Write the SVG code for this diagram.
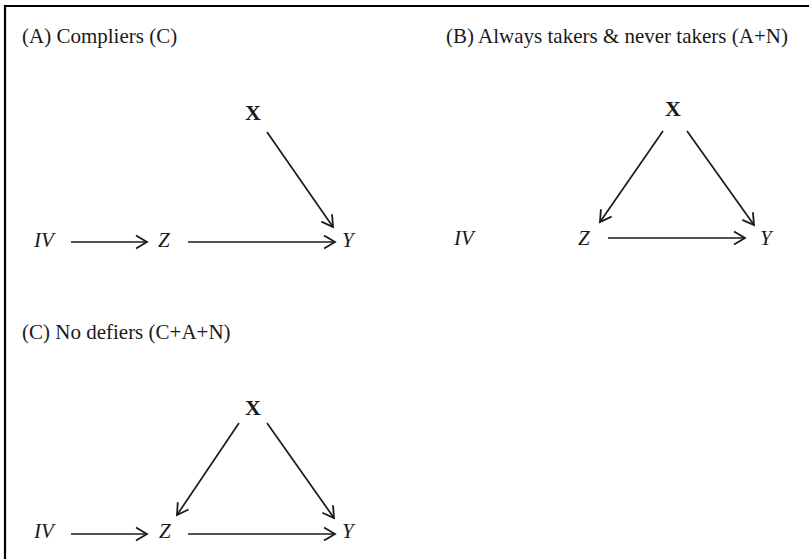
<svg xmlns="http://www.w3.org/2000/svg" width="809" height="559" viewBox="0 0 809 559">
<style>
.t{font-family:"Liberation Serif","Times New Roman",serif;font-size:21px;fill:#1a1a1a}
.v{font-family:"Liberation Serif","Times New Roman",serif;font-size:21px;font-style:italic;fill:#1a1a1a}
.b{font-family:"Liberation Serif","Times New Roman",serif;font-size:22px;font-weight:bold;fill:#1a1a1a}
.e{stroke:#1a1a1a;stroke-width:1.7;fill:none;marker-end:url(#ah)}
</style>
<defs>
<marker id="ah" markerUnits="userSpaceOnUse" markerWidth="16" markerHeight="16" refX="13" refY="8" orient="auto" viewBox="0 0 16 16">
<path d="M2,1.5 L13,8 L2,14.5" fill="none" stroke="#1a1a1a" stroke-width="1.8"/>
</marker>
</defs>
<rect width="809" height="559" fill="#fff"/>
<path d="M5,559 V6 H809" fill="none" stroke="#000" stroke-width="2.2"/>
<g id="titles">
<text class="t" x="22" y="43">(A) Compliers (C)</text>
<text class="t" x="446" y="43">(B) Always takers &amp; never takers (A+N)</text>
<text class="t" x="22" y="339">(C) No defiers (C+A+N)</text>
</g>
<g id="nodeA-IV"><text class="v" x="34" y="247">IV</text></g>
<g id="nodeA-Z"><text class="v" x="158" y="247">Z</text></g>
<g id="nodeA-Y"><text class="v" x="342" y="247">Y</text></g>
<g id="nodeA-X"><text class="b" x="245" y="120">X</text></g>
<g id="nodeB-IV"><text class="v" x="454" y="245">IV</text></g>
<g id="nodeB-Z"><text class="v" x="578" y="245">Z</text></g>
<g id="nodeB-Y"><text class="v" x="760" y="245">Y</text></g>
<g id="nodeB-X"><text class="b" x="665" y="116">X</text></g>
<g id="nodeC-IV"><text class="v" x="34" y="538">IV</text></g>
<g id="nodeC-Z"><text class="v" x="159" y="538">Z</text></g>
<g id="nodeC-Y"><text class="v" x="342" y="538">Y</text></g>
<g id="nodeC-X"><text class="b" x="245" y="415">X</text></g>
<g id="connectors">
<line class="e" x1="71" y1="242" x2="147" y2="242"/>
<line class="e" x1="188" y1="242" x2="335" y2="242"/>
<line class="e" x1="267" y1="132" x2="333" y2="227"/>
<line class="e" x1="663" y1="131" x2="600" y2="222"/>
<line class="e" x1="687" y1="131" x2="754" y2="225"/>
<line class="e" x1="608" y1="238" x2="745" y2="238"/>
<line class="e" x1="71" y1="534" x2="147" y2="534"/>
<line class="e" x1="188" y1="534" x2="335" y2="534"/>
<line class="e" x1="239" y1="423" x2="177" y2="515"/>
<line class="e" x1="267" y1="423" x2="334" y2="518"/>
</g>
</svg>
